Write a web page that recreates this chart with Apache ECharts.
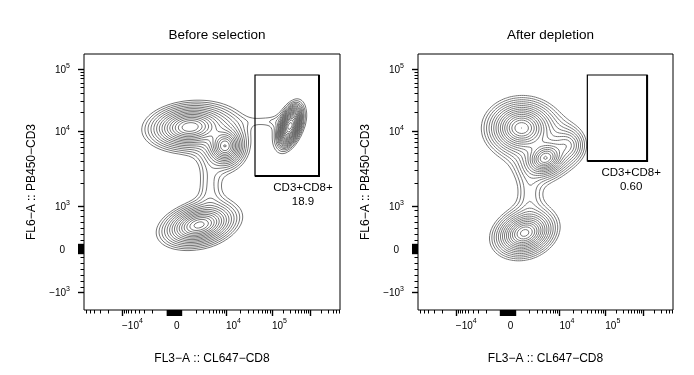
<!DOCTYPE html>
<html>
<head>
<meta charset="utf-8">
<script src="https://cdn.jsdelivr.net/npm/echarts@6/dist/echarts.min.js"></script>
<style>
html, body { margin: 0; padding: 0; background: #fff; }
#chart { width: 694px; height: 375px; }
</style>
</head>
<body>
<div id="chart"></div>
<script>
// text
var titles = ['Before selection', 'After depletion'];
var gateNames = ['CD3+CD8+', 'CD3+CD8+'];
var gateFreqs = ['18.9', '0.60'];
var xName = 'FL3\u2212A :: CL647\u2212CD8';
var yName = 'FL6\u2212A :: PB450\u2212CD3';

// labelled ticks (fluorescence values)
var xLabelVals = [-1e4, 0, 1e4, 1e5];
var yLabelVals = [-1e3, 0, 1e3, 1e4, 1e5];

// populations in display channels (0-256)
// (peak height, spread, correlation and tail shape; large nu = gaussian core)
var beforeX    = [106, 141, 206, 206, 115, 126, 182];
var beforeY    = [183, 164, 184, 184,  85, 125, 189];
var beforeSdX  = [ 12,   6,   4,   8,  11,   8,  14];
var beforeSdY  = [6.5, 6.5,   7,  13, 6.5,  20,   4];
var beforeRho  = [0.1,   0, 0.45, 0.45, 0.3, 0,   0];
var beforePeak = [1.0, 0.8, 2.6, 0.15, 0.9, 0.05, 0.028];
var beforeNu   = [  2,   2,  30,   2,   2,   2,   2];

var afterX    = [104, 128, 150, 107, 112];
var afterY    = [182, 152, 165,  77, 117];
var afterSdX  = [ 10,   7,   8,   9,   8];
var afterSdY  = [  8,   6,   8,   7,  20];
var afterRho  = [  0, 0.2,   0, 0.2,   0];
var afterPeak = [1.0, 0.8, 0.15, 0.9, 0.05];
var afterNu   = [  2,   2,   2,   2,   2];

// gates [x0, x1, y0, y1] in channels
var beforeGate = [171, 235, 134, 235];
var afterGate  = [170, 230, 149, 235];

// biexponential display scales (value -> channel)
var xScale = { zero: 90, vals: [1e3, 1e4, 1e5, 1e6], offs: [9, 52, 98, 136] };
var yScale = { zero: 61, vals: [1e3, 1e4, 1e5, 1e6], offs: [43, 118, 180, 230] };

function toCh(v, s) {
    var a = Math.abs(v), sg = v < 0 ? -1 : 1, off;
    if (a <= s.vals[0]) {
        off = a / s.vals[0] * s.offs[0];
    } else {
        var i = 0;
        while (i < s.vals.length - 2 && a > s.vals[i + 1]) i++;
        var t = (Math.log10(a) - Math.log10(s.vals[i])) / (Math.log10(s.vals[i + 1]) - Math.log10(s.vals[i]));
        off = s.offs[i] + t * (s.offs[i + 1] - s.offs[i]);
    }
    return s.zero + sg * off;
}
function inRange(c) { return c >= 0 && c <= 256; }

function decadeTicks(s, from, to) {
    var out = [];
    for (var d = from; d <= to; d++) {
        for (var m = 2; m <= 9; m++) {
            out.push(toCh(m * Math.pow(10, d), s), toCh(-m * Math.pow(10, d), s));
        }
    }
    return out;
}
var xMajor = xLabelVals.concat([1e6]).map(function (v) { return toCh(v, xScale); });
for (var b = -800; b <= 800; b += 100) xMajor.push(toCh(b, xScale));
var xMinor = decadeTicks(xScale, 3, 6).filter(inRange);
var yMajor = yLabelVals.map(function (v) { return toCh(v, yScale); });
for (var b2 = -100; b2 <= 100; b2 += 20) yMajor.push(toCh(b2, yScale));
var yMinor = decadeTicks(yScale, 3, 5);
for (var b3 = 200; b3 <= 900; b3 += 140) yMinor.push(toCh(b3, yScale), toCh(-b3, yScale));
yMinor = yMinor.filter(inRange);

function labelText(vals, s, ch, pad) {
    var best = 0;
    vals.forEach(function (v, i) {
        if (Math.abs(toCh(v, s) - ch) < Math.abs(toCh(vals[best], s) - ch)) best = i;
    });
    var v = vals[best];
    if (v === 0) return '{b|0}' + (pad ? '{p|}' : '');
    var e = Math.round(Math.log10(Math.abs(v)));
    return '{b|' + (v < 0 ? '\u2212' : '') + '10}{s|' + e + '}';
}

// density and contours
function density(p, x, y) {
    var s = 0;
    for (var i = 0; i < p.x.length; i++) {
        var dx = (x - p.x[i]) / p.sdx[i], dy = (y - p.y[i]) / p.sdy[i], r = p.rho[i], nu = p.nu[i];
        var q = (dx * dx - 2 * r * dx * dy + dy * dy) / (1 - r * r);
        s += p.peak[i] * Math.pow(1 + q / (2 * nu), -nu);
    }
    return s;
}

var CASES = [[], [[3, 0]], [[0, 1]], [[3, 1]], [[1, 2]], [[3, 0], [1, 2]], [[0, 2]], [[3, 2]],
    [[2, 3]], [[2, 0]], [[0, 1], [2, 3]], [[2, 1]], [[1, 3]], [[1, 0]], [[0, 3]], []];

function march(g, n, step, L) {
    var pts = {}, adj = {};
    function key(i, j, e) {
        var k, a, b;
        if (e === 0) { k = 'h' + i + '_' + j; a = [i, j]; b = [i + 1, j]; }
        else if (e === 1) { k = 'v' + (i + 1) + '_' + j; a = [i + 1, j]; b = [i + 1, j + 1]; }
        else if (e === 2) { k = 'h' + i + '_' + (j + 1); a = [i, j + 1]; b = [i + 1, j + 1]; }
        else { k = 'v' + i + '_' + j; a = [i, j]; b = [i, j + 1]; }
        if (!pts[k]) {
            var va = g[a[1] * n + a[0]], vb = g[b[1] * n + b[0]], t = (L - va) / (vb - va);
            pts[k] = [(a[0] + t * (b[0] - a[0])) * step, (a[1] + t * (b[1] - a[1])) * step];
        }
        return k;
    }
    for (var j = 0; j < n - 1; j++) {
        for (var i = 0; i < n - 1; i++) {
            var c = (g[j * n + i] > L ? 1 : 0) | (g[j * n + i + 1] > L ? 2 : 0) |
                (g[(j + 1) * n + i + 1] > L ? 4 : 0) | (g[(j + 1) * n + i] > L ? 8 : 0);
            CASES[c].forEach(function (sg) {
                var k1 = key(i, j, sg[0]), k2 = key(i, j, sg[1]);
                (adj[k1] = adj[k1] || []).push(k2);
                (adj[k2] = adj[k2] || []).push(k1);
            });
        }
    }
    var seen = {}, out = [];
    Object.keys(adj).forEach(function (start) {
        if (seen[start]) return;
        var path = [], cur = start, prev = null;
        while (cur && !seen[cur]) {
            seen[cur] = true;
            path.push(pts[cur]);
            var nb = adj[cur], nxt = null;
            for (var m = 0; m < nb.length; m++) {
                if (nb[m] !== prev && !seen[nb[m]]) { nxt = nb[m]; break; }
            }
            if (!nxt) {
                if (nb.indexOf(start) >= 0 && path.length > 2) path.push(pts[start]);
                break;
            }
            prev = cur; cur = nxt;
        }
        if (path.length > 1) out.push(path);
    });
    return out;
}

var LEVEL_LO = 0.04, LEVEL_STEP = 1.24;
function contours(p) {
    var step = 2, n = 129, g = [], maxV = 0;
    for (var j = 0; j < n; j++) {
        for (var i = 0; i < n; i++) {
            var v = density(p, i * step, j * step);
            g[j * n + i] = v;
            if (v > maxV) maxV = v;
        }
    }
    var paths = [];
    for (var L = LEVEL_LO; L < maxV; L *= LEVEL_STEP) paths = paths.concat(march(g, n, step, L));
    return paths;
}

var panels = [
    { pops: { x: beforeX, y: beforeY, sdx: beforeSdX, sdy: beforeSdY, rho: beforeRho, peak: beforePeak, nu: beforeNu }, gate: beforeGate },
    { pops: { x: afterX, y: afterY, sdx: afterSdX, sdy: afterSdY, rho: afterRho, peak: afterPeak, nu: afterNu }, gate: afterGate }
];
var grids = [
    { left: 84, top: 54, width: 256, height: 256 },
    { left: 418, top: 54, width: 255, height: 256 }
];

var FONT = "'Liberation Sans', Arial, Helvetica, sans-serif";
var rich = {
    b: { fontSize: 10, fontFamily: FONT, color: '#000', verticalAlign: 'bottom', lineHeight: 13 },
    s: { fontSize: 7, fontFamily: FONT, color: '#000', verticalAlign: 'top', lineHeight: 8 },
    p: { width: 5 }
};

var option = { animation: false, grid: [], xAxis: [], yAxis: [], series: [], title: [] };

panels.forEach(function (pn, k) {
    var gr = grids[k];
    option.title.push({
        text: titles[k], left: gr.left + gr.width / 2, top: 23, textAlign: 'center',
        textStyle: { fontSize: 13.5, fontWeight: 'normal', color: '#000', fontFamily: FONT }
    });
    option.grid.push({
        left: gr.left, top: gr.top, width: gr.width, height: gr.height,
        show: true, borderColor: '#000', borderWidth: 1, backgroundColor: '#fff'
    });
    option.xAxis.push({
        gridIndex: k, type: 'value', min: 0, max: 256, position: 'bottom',
        axisLine: { show: false }, splitLine: { show: false },
        axisTick: { customValues: xMajor.filter(inRange), length: 6, lineStyle: { color: '#000', width: 1.4 } },
        axisLabel: {
            customValues: xLabelVals.map(function (v) { return toCh(v, xScale); }),
            formatter: function (v) { return labelText(xLabelVals, xScale, v, false); },
            align: 'left', margin: 8, rich: rich
        },
        name: xName, nameLocation: 'middle', nameGap: 43,
        nameTextStyle: { fontSize: 12, color: '#000', fontFamily: FONT }
    }, {
        gridIndex: k, type: 'value', min: 0, max: 256, position: 'bottom',
        axisLine: { show: false }, splitLine: { show: false }, axisLabel: { show: false },
        axisTick: { customValues: xMinor, length: 3.5, lineStyle: { color: '#000', width: 1 } }
    });
    option.yAxis.push({
        gridIndex: k, type: 'value', min: 0, max: 256, position: 'left',
        axisLine: { show: false }, splitLine: { show: false },
        axisTick: { customValues: yMajor.filter(inRange), length: 6, lineStyle: { color: '#000', width: 1.4 } },
        axisLabel: {
            customValues: yLabelVals.map(function (v) { return toCh(v, yScale); }),
            formatter: function (v) { return labelText(yLabelVals, yScale, v, true); },
            align: 'right', margin: 14, rich: rich
        },
        name: yName, nameLocation: 'middle', nameGap: 46, nameRotate: 90,
        nameTextStyle: { fontSize: 12, color: '#000', fontFamily: FONT }
    }, {
        gridIndex: k, type: 'value', min: 0, max: 256, position: 'left',
        axisLine: { show: false }, splitLine: { show: false }, axisLabel: { show: false },
        axisTick: { customValues: yMinor, length: 3.5, lineStyle: { color: '#000', width: 1 } }
    });

    var paths = contours(pn.pops);
    option.series.push({
        type: 'custom', xAxisIndex: 2 * k, yAxisIndex: 2 * k, silent: true, clip: true,
        data: paths.map(function (p, i) { return [p[0][0], p[0][1], i]; }),
        renderItem: function (params, api) {
            var p = paths[params.dataIndex];
            return {
                type: 'polyline',
                shape: { points: p.map(function (pt) { return api.coord(pt); }) },
                style: { stroke: '#5e5e5e', fill: null, lineWidth: 0.85 }
            };
        }
    });

    var gt = pn.gate;
    option.series.push({
        type: 'custom', xAxisIndex: 2 * k, yAxisIndex: 2 * k, silent: true,
        data: [[gt[0], gt[2], gt[1], gt[3]]],
        renderItem: function (params, api) {
            var a = api.coord([api.value(0), api.value(3)]);
            var c = api.coord([api.value(2), api.value(1)]);
            var lab = api.coord([api.value(2) - 16, api.value(1) - 5]);
            return {
                type: 'group',
                children: [
                    { type: 'rect', shape: { x: a[0], y: a[1], width: c[0] - a[0], height: c[1] - a[1] },
                      style: { stroke: '#000', fill: null, lineWidth: 1.2 } },
                    { type: 'polyline', shape: { points: [[c[0], a[1]], [c[0], c[1]], [a[0], c[1]]] },
                      style: { stroke: '#000', fill: null, lineWidth: 2 } },
                    { type: 'text', x: lab[0], y: lab[1],
                      style: { text: gateNames[k] + '\n' + gateFreqs[k], align: 'center', verticalAlign: 'top',
                               fontSize: 11.5, lineHeight: 14, fontFamily: FONT, fill: '#000' } }
                ]
            };
        }
    });
});

var chart = echarts.init(document.getElementById('chart'));
chart.setOption(option);
</script>
</body>
</html>
